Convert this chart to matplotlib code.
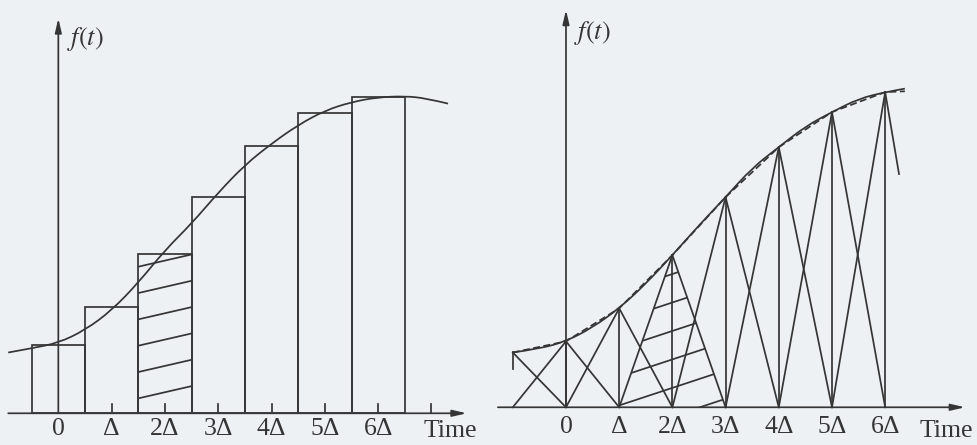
import numpy as np
import matplotlib
matplotlib.use('Agg')
import matplotlib.pyplot as plt
from matplotlib.path import Path
from matplotlib.patches import PathPatch, Polygon

plt.rcParams['font.family'] = ['Liberation Serif', 'DejaVu Serif']
plt.rcParams['mathtext.fontset'] = 'stix'

ink = '#353535'
paper = '#edf1f3'
lw = 1.25

# sample instants (in units of Delta) and their labels
tick_pos = [0, 1, 2, 3, 4, 5, 6]
tick_labels = ['0', 'Δ', '2Δ', '3Δ', '4Δ', '5Δ', '6Δ']

# left: zero-order hold
hold_values = [1.28, 1.99, 2.98, 4.05, 5.01, 5.64, 5.94]
left_curve_t = [-0.94, -0.5, 0, 0.5, 1.0, 1.5, 2.0, 2.5, 3.0, 3.5, 4.0, 4.5,
                5.0, 5.5, 6.0, 6.5, 6.9, 7.31]
left_curve_f = [1.14, 1.22, 1.32, 1.56, 1.93, 2.45, 3.06, 3.56, 4.14, 4.66,
                5.06, 5.41, 5.68, 5.84, 5.93, 5.95, 5.91, 5.81]
hatched_bar = 2

# right: first-order (triangle) hold
tri_t = [-1, 0, 1, 2, 3, 4, 5, 6]
tri_f = [1.03, 1.24, 1.86, 2.86, 3.95, 4.89, 5.55, 5.925]
dash_tail = (6.37, 5.94)
right_curve_t = [-1, -0.5, 0, 0.5, 1, 1.5, 2, 2.5, 3, 3.5, 4, 4.5, 5, 5.5,
                 6, 6.37]
right_curve_f = [1.03, 1.1, 1.24, 1.5, 1.86, 2.32, 2.86, 3.42, 3.95, 4.5,
                 4.89, 5.28, 5.55, 5.8, 5.925, 5.99]
hatched_tri = 3  # index into tri_t (t = 2 Delta)


def smooth_path(xs, ys):
    pts = np.column_stack([xs, ys])
    verts = [pts[0]]
    codes = [Path.MOVETO]
    n = len(pts)
    for i in range(1, n - 1):
        end = pts[i + 1] if i == n - 2 else (pts[i] + pts[i + 1]) / 2
        verts += [pts[i], end]
        codes += [Path.CURVE3, Path.CURVE3]
    return Path(verts, codes)


def axis_arrow(ax, start, end):
    ax.annotate('', xy=end, xytext=start,
                arrowprops=dict(arrowstyle='-|>,head_length=0.6,head_width=0.14',
                                color=ink, lw=lw, mutation_scale=14,
                                shrinkA=0, shrinkB=0))


fig = plt.figure(figsize=(9.77, 4.45), dpi=100)
fig.patch.set_facecolor(paper)

# ---------- left panel ----------
ax = fig.add_axes([0, 0, 488 / 977, 1])
ax.set_xlim(-1.094, 8.06)
ax.set_ylim(-0.595, 7.754)
ax.axis('off')

bars = ax.bar(tick_pos, hold_values, width=1, fill=False, edgecolor=ink,
              lw=lw, zorder=2)
ax.add_patch(PathPatch(smooth_path(left_curve_t, left_curve_f), fill=False,
                       edgecolor=ink, lw=lw, zorder=3))

# hatch in one bar
rect = bars[hatched_bar]
x0 = rect.get_x()
for c in np.arange(0.28, hold_values[hatched_bar], 0.494):
    ln, = ax.plot([x0, x0 + 1], [c, c + 0.23], color=ink, lw=lw)
    ln.set_clip_path(rect)

axis_arrow(ax, (-0.94, 0), (7.66, 0))
axis_arrow(ax, (0, 0), (0, 7.41))
for k in range(1, 8):
    ax.plot([k, k], [0, 0.17], color=ink, lw=lw)
for p, lab in zip(tick_pos, tick_labels):
    ax.text(p, -0.3, lab, ha='center', va='center', fontsize=18.5, color=ink)
ax.text(7.35, -0.33, 'Time', ha='center', va='center', fontsize=18.5, color=ink)
ax.text(0.5, 7.02, '$f(t)$', ha='center', va='center', fontsize=19, color=ink)

# ---------- right panel ----------
ax = fig.add_axes([488 / 977, 0, 489 / 977, 1])
ax.set_xlim(-1.466, 7.726)
ax.set_ylim(-0.709, 7.656)
ax.axis('off')

last = len(tri_t) - 1
for i, (tk, fk) in enumerate(zip(tri_t, tri_f)):
    if i == 0:
        ax.plot([tk, tk], [fk - 0.31, fk], color=ink, lw=lw)
    else:
        ax.plot([tk - 1, tk], [0, fk], color=ink, lw=lw)
        ax.plot([tk, tk], [0, fk], color=ink, lw=lw)
    frac = 0.26 if i == last else 1.0
    ax.plot([tk, tk + frac], [fk, fk * (1 - frac)], color=ink, lw=lw)

ax.plot(tri_t + [dash_tail[0]], tri_f + [dash_tail[1]], color=ink, lw=lw,
        ls=(0, (4, 2)))
ax.add_patch(PathPatch(smooth_path(right_curve_t, right_curve_f), fill=False,
                       edgecolor=ink, lw=lw, zorder=3))

# hatch inside one triangle
th, fh = tri_t[hatched_tri], tri_f[hatched_tri]
tri = Polygon([(th - 1, 0), (th, fh), (th + 1, 0)], closed=True,
              transform=ax.transData)
for k in range(6):
    c = -0.5 + 0.535 * k
    ln, = ax.plot([th - 1.5, th + 1.5], [c - 0.33 * 0.5, c + 0.33 * 2.5],
                  color=ink, lw=lw)
    ln.set_clip_path(tri)

axis_arrow(ax, (-1.28, 0), (7.5, 0))
axis_arrow(ax, (0, 0), (0, 7.47))
for p, lab in zip(tick_pos, tick_labels):
    ax.text(p, -0.38, lab, ha='center', va='center', fontsize=18.5, color=ink)
ax.text(6.64, -0.45, 'Time', ha='left', va='center', fontsize=18.5, color=ink)
ax.text(0.49, 7.04, '$f(t)$', ha='center', va='center', fontsize=19, color=ink)

fig.savefig('out.png', dpi=100, facecolor=paper)
